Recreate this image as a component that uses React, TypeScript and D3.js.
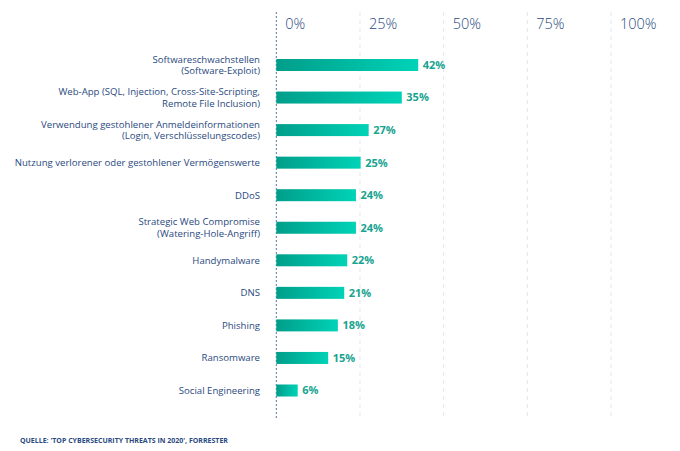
import React from "react";
import * as d3 from "d3";

const categories: string[][] = [
  ["Softwareschwachstellen", "(Software-Exploit)"],
  ["Web-App (SQL, Injection, Cross-Site-Scripting,", "Remote File Inclusion)"],
  ["Verwendung gestohlener Anmeldeinformationen", "(Login, Verschlüsselungscodes)"],
  ["Nutzung verlorener oder gestohlener Vermögenswerte"],
  ["DDoS"],
  ["Strategic Web Compromise", "(Watering-Hole-Angriff)"],
  ["Handymalware"],
  ["DNS"],
  ["Phishing"],
  ["Ransomware"],
  ["Social Engineering"],
];
// labelled values
const values: number[] = [42, 35, 27, 25, 24, 24, 22, 21, 18, 15, 6];
// bar lengths as drawn in the picture (percent units)
const barLengths: number[] = [42.4, 37.5, 27.6, 25.2, 23.8, 23.8, 21.2, 20.3, 18.4, 15.5, 6.4];
const tickValues: number[] = [0, 25, 50, 75, 100];
const tickLabels: string[] = ["0%", "25%", "50%", "75%", "100%"];
const sourceText = "QUELLE: 'TOP CYBERSECURITY THREATS IN 2020', FORRESTER";

const W = 680;
const H = 451;
const navy = "#2a4a80";
const teal = "#17a38f";
const font = "'Open Sans', sans-serif";

export default function App() {
  const x = d3.scaleLinear().domain([0, 100]).range([276.3, 611]);
  const idx = d3.range(values.length);
  const step = 32.55;
  const y = d3
    .scaleBand<number>()
    .domain(idx)
    .range([65 - step / 2, 65 - step / 2 + step * values.length])
    .paddingInner(0)
    .paddingOuter(0);
  const barH = 12;

  return (
    <svg
      width={W}
      height={H}
      style={{ position: "absolute", left: 0, top: 0, background: "#fff" }}
    >
      <defs>
        <linearGradient id="barGrad" x1="0" x2="1" y1="0" y2="0">
          <stop offset="0%" stopColor="#009e8a" />
          <stop offset="100%" stopColor="#00d3b7" />
        </linearGradient>
      </defs>
      {tickValues.map((t, i) => (
        <g key={t}>
          <line
            x1={x(t)}
            x2={x(t)}
            y1={12}
            y2={420}
            stroke={t === 0 ? "#5a73a0" : "#e3e6ec"}
            strokeWidth={1}
            strokeDasharray={t === 0 ? "2,2" : "4,4"}
          />
          <text
            x={x(t) + 9}
            y={29}
            fontFamily={font}
            fontSize={14.5}
            fontWeight={300}
            fill={navy}
          >
            {tickLabels[i]}
          </text>
        </g>
      ))}
      {idx.map((i) => {
        const cy = (y(i) as number) + y.bandwidth() / 2;
        const lines = categories[i];
        const lh = 11.7;
        const y0 = cy - ((lines.length - 1) * lh) / 2;
        return (
          <g key={i}>
            <text
              x={260}
              textAnchor="end"
              fontFamily={font}
              fontSize={9.6}
              fill={navy}
            >
              {lines.map((l, k) => (
                <tspan key={k} x={260} y={y0 + k * lh} dy="0.35em">
                  {l}
                </tspan>
              ))}
            </text>
            <rect
              x={x(0)}
              y={cy - barH / 2}
              width={x(barLengths[i]) - x(0)}
              height={barH}
              fill="url(#barGrad)"
            />
            <text
              x={x(barLengths[i]) + 4.5}
              y={cy}
              dy="0.35em"
              fontFamily={font}
              fontSize={11}
              fontWeight={700}
              fill={teal}
            >
              {values[i]}%
            </text>
          </g>
        );
      })}
      <text
        x={20}
        y={441}
        dy="0.35em"
        fontFamily={font}
        fontSize={7}
        fontWeight={700}
        fill={navy}
      >
        {sourceText}
      </text>
    </svg>
  );
}
